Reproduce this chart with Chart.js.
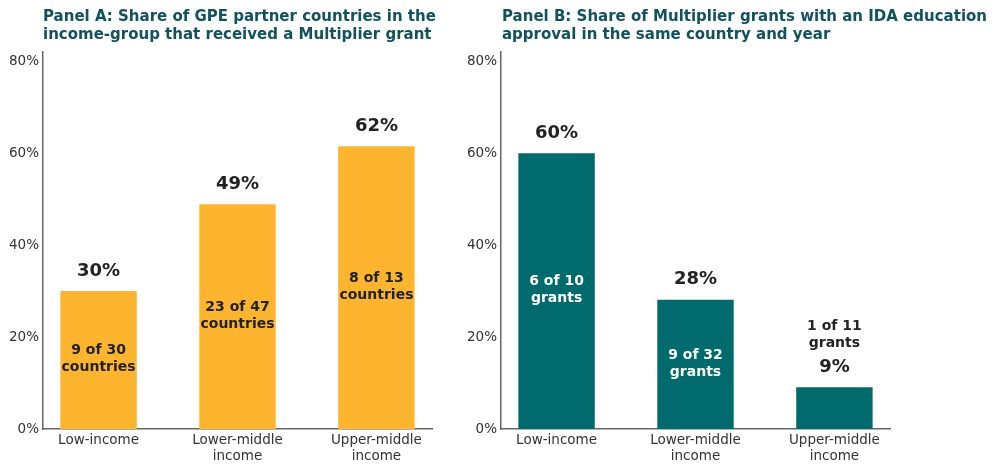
<!DOCTYPE html>
<html>
<head>
<meta charset="utf-8">
<script src="https://cdn.jsdelivr.net/npm/chart.js@4"></script>
<style>
  body { margin: 0; background: #fff; }
  #page { position: relative; width: 1000px; height: 475px; overflow: hidden; }
  .panel { position: absolute; top: 0; width: 480px; height: 475px; }
  .title {
    position: absolute; top: 7px;
    font-family: "DejaVu Sans", sans-serif; font-weight: bold;
    font-size: 15px; line-height: 18px; color: #11525e; white-space: nowrap;
  }
</style>
</head>
<body>
<div id="page">
  <div class="panel" style="left:0"><canvas id="chartA"></canvas></div>
  <div class="panel" style="left:458px"><canvas id="chartB"></canvas></div>
  <div class="title" style="left:43px">Panel A: Share of GPE partner countries in the<br>income-group that received a Multiplier grant</div>
  <div class="title" style="left:502px">Panel B: Share of Multiplier grants with an IDA education<br>approval in the same country and year</div>
</div>
<script>
// Data
const categories = [['Low-income'], ['Lower-middle', 'income'], ['Upper-middle', 'income']];
const yTicks = [0, 20, 40, 60, 80];

// Panel A: share of partner countries that received a Multiplier grant
const shareA = [30, 48.9, 61.5];
const countsA = [['9 of 30', 'countries'], ['23 of 47', 'countries'], ['8 of 13', 'countries']];

// Panel B: share of Multiplier grants with an IDA education approval
const shareB = [60, 28.1, 9.1];
const countsB = [['6 of 10', 'grants'], ['9 of 32', 'grants'], ['1 of 11', 'grants']];

Chart.defaults.font.family = '"DejaVu Sans", sans-serif';
Chart.defaults.color = '#333';

/**
 * Draws the percentage above each bar and the count label
 * inside the bar (or above it when the bar is too short)
 */
const barLabels = {
    id: 'barLabels',
    afterDatasetsDraw(chart, args, opts) {
        const ctx = chart.ctx;
        const meta = chart.getDatasetMeta(0);
        const values = chart.data.datasets[0].data;

        meta.data.forEach((bar, i) => {
            const top = bar.y;
            const base = bar.base;
            const x = bar.x;
            const lines = opts.counts[i];

            ctx.save();
            ctx.textAlign = 'center';
            ctx.textBaseline = 'middle';

            ctx.font = 'bold 18px "DejaVu Sans"';
            ctx.fillStyle = '#222';
            ctx.fillText(Math.round(values[i].y) + '%', x, top - 20);

            ctx.font = 'bold 14px "DejaVu Sans"';
            if (base - top > 60) {
                const mid = (top + base) / 2 - 1;
                ctx.fillStyle = opts.innerColor;
                ctx.fillText(lines[0], x, mid - 8.5);
                ctx.fillText(lines[1], x, mid + 8.5);
            } else {
                ctx.fillStyle = '#222';
                ctx.fillText(lines[0], x, top - 61);
                ctx.fillText(lines[1], x, top - 44);
            }
            ctx.restore();
        });
    }
};

function makePanel(canvasId, values, counts, barColor, innerColor) {
    const ctx = document.getElementById(canvasId);

    new Chart(ctx, {
        type: 'bar',
        data: {
            datasets: [{
                data: values.map((v, i) => ({ x: i, y: v })),
                backgroundColor: barColor,
                borderWidth: 0,
                categoryPercentage: 1,
                barPercentage: 0.55
            }]
        },
        options: {
            responsive: true,
            maintainAspectRatio: false,
            animation: false,
            layout: {
                padding: { top: 52, right: 48, bottom: 0, left: 0 }
            },
            plugins: {
                legend: { display: false },
                tooltip: { enabled: false },
                barLabels: { counts: counts, innerColor: innerColor }
            },
            scales: {
                x: {
                    type: 'linear',
                    min: -0.4,
                    max: 2.4,
                    offset: false,
                    grid: { display: false, drawTicks: false },
                    border: { display: true, color: '#666', width: 1.5 },
                    afterBuildTicks: scale => {
                        scale.ticks = categories.map((c, i) => ({ value: i }));
                    },
                    afterFit: scale => { scale.height = 46; },
                    ticks: {
                        padding: 3,
                        maxRotation: 0,
                        autoSkip: false,
                        font: { size: 13.5 },
                        color: '#333',
                        callback: value => categories[value]
                    }
                },
                y: {
                    min: 0,
                    max: 82,
                    grid: { display: false, drawTicks: false },
                    border: { display: true, color: '#666', width: 1.5 },
                    afterBuildTicks: scale => {
                        scale.ticks = yTicks.map(v => ({ value: v }));
                    },
                    afterFit: scale => { scale.width = 43; },
                    ticks: {
                        padding: 4,
                        font: { size: 13.5 },
                        color: '#333',
                        callback: value => value + '%'
                    }
                }
            }
        },
        plugins: [barLabels]
    });
}

makePanel('chartA', shareA, countsA, '#fdb42e', '#222');
makePanel('chartB', shareB, countsB, '#006a6c', '#ffffff');
</script>
</body>
</html>
